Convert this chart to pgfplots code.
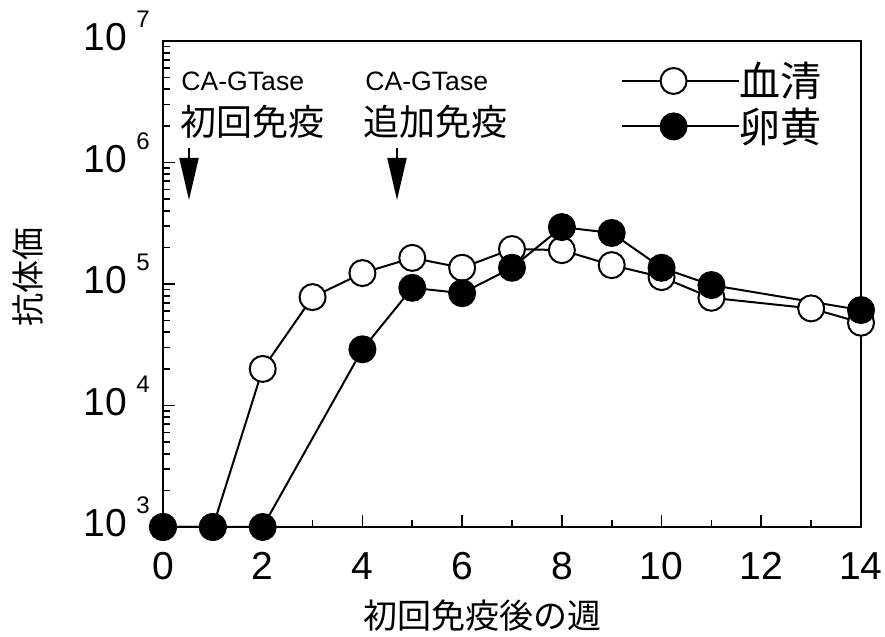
\documentclass[border=0pt]{standalone}
\usepackage{pgfplots}
\pgfplotsset{compat=1.18}
\usepackage{fontspec}
\setmainfont{Liberation Sans}
\newfontfamily\jp{Noto Sans CJK JP}
\usetikzlibrary{arrows.meta}
\newcommand{\tp}[1]{10\hspace{4.5pt}\raisebox{11.5pt}{\fontsize{12}{12}\selectfont #1}}
\begin{document}
\begin{tikzpicture}
\useasboundingbox (0,0) rectangle (442.5pt,318.5pt);
\begin{axis}[
  at={(81.5pt,55pt)}, anchor=south west,
  scale only axis, width=349pt, height=243pt,
  xmin=0, xmax=14, ymode=log, log basis y=10, ymin=1e3, ymax=1e7,
  clip=false,
  axis line style={line width=1pt},
  tick pos=left,
  tick style={line width=0.9pt, black},
  major tick length=6pt, minor tick length=3.5pt,
  xtick={0,2,...,14}, minor x tick num=1,
  ytick={1e3,1e4,1e5,1e6,1e7},
  yticklabel={\tp{\pgfmathprintnumber[fixed,precision=0]{\tick}}},
  extra y ticks={2e3,3e3,4e3,5e3,6e3,7e3,8e3,9e3,2e4,3e4,4e4,5e4,6e4,7e4,8e4,9e4,2e5,3e5,4e5,5e5,6e5,7e5,8e5,9e5,2e6,3e6,4e6,5e6,6e6,7e6,8e6,9e6},
  extra y tick labels={},
  extra y tick style={major tick length=3.5pt, tick style={line width=0.9pt, black}},
  xticklabel style={anchor=base, inner sep=0pt, yshift=-26.5pt, font=\fontsize{19.5}{20}\selectfont},
  yticklabel style={anchor=base east, inner sep=0pt, xshift=-6.5pt, yshift=-5pt, font=\fontsize{19.5}{20}\selectfont},
  /pgf/number format/assume math mode=true,
  legend style={draw=none, fill=none, at={(0.655,0.871)}, anchor=west,
    font=\jp\fontsize{20.5}{21}\selectfont, row sep=4pt, inner sep=0pt,
    nodes={inner sep=0pt}},
  legend cell align=left,
  legend image code/.code={\draw[mark repeat=2,mark phase=2,#1] plot coordinates {(0pt,0pt) (26pt,0pt) (52pt,0pt)}; \path (52pt,0pt) -- (58.5pt,0pt);},
]
\addplot[black, line width=1pt, mark=*, mark size=6.5pt, mark options={fill=white, line width=1pt}] coordinates {
(0,1000) (1,1000) (2,2e4) (3,7.8e4) (4,1.23e5) (5,1.64e5) (6,1.36e5) (7,1.94e5) (8,1.9e5) (9,1.43e5) (10,1.14e5) (11,7.7e4) (13,6.3e4) (14,4.8e4)};
\addlegendentry{血清}
\addplot[black, line width=1pt, mark=*, mark size=6.5pt, mark options={fill=black, line width=1pt}] coordinates {
(0,1000) (1,1000) (2,1000) (4,2.9e4) (5,9.3e4) (6,8.4e4) (7,1.36e5) (8,2.94e5) (9,2.63e5) (10,1.36e5) (11,9.8e4) (14,6.1e4)};
\addlegendentry{卵黄}
\end{axis}
\node[anchor=base west, inner sep=0pt, font=\fontsize{13.3}{14}\selectfont] at (90.5pt,273pt) {CA-GTase};
\node[anchor=west, inner sep=0pt, font=\jp\fontsize{18}{18}\selectfont] at (90pt,257.5pt) {初回免疫};
\node[anchor=base west, inner sep=0pt, font=\fontsize{13.3}{14}\selectfont] at (182.5pt,273pt) {CA-GTase};
\node[anchor=west, inner sep=0pt, font=\jp\fontsize{18}{18}\selectfont] at (181.5pt,257.5pt) {追加免疫};
\draw[line width=1pt, -{Triangle[length=21pt,width=9.5pt]}] (94.5pt,244.5pt) -- (94.5pt,218.5pt);
\draw[line width=1pt, -{Triangle[length=21pt,width=9.5pt]}] (198.5pt,244.5pt) -- (198.5pt,218.5pt);
\node[rotate=90, inner sep=0pt, font=\jp\fontsize{16.5}{17}\selectfont] at (14pt,180pt) {抗体価};
\node[inner sep=0pt, font=\jp\fontsize{17}{17}\selectfont] at (241pt,10.5pt) {初回免疫後の週};
\end{tikzpicture}
\end{document}
